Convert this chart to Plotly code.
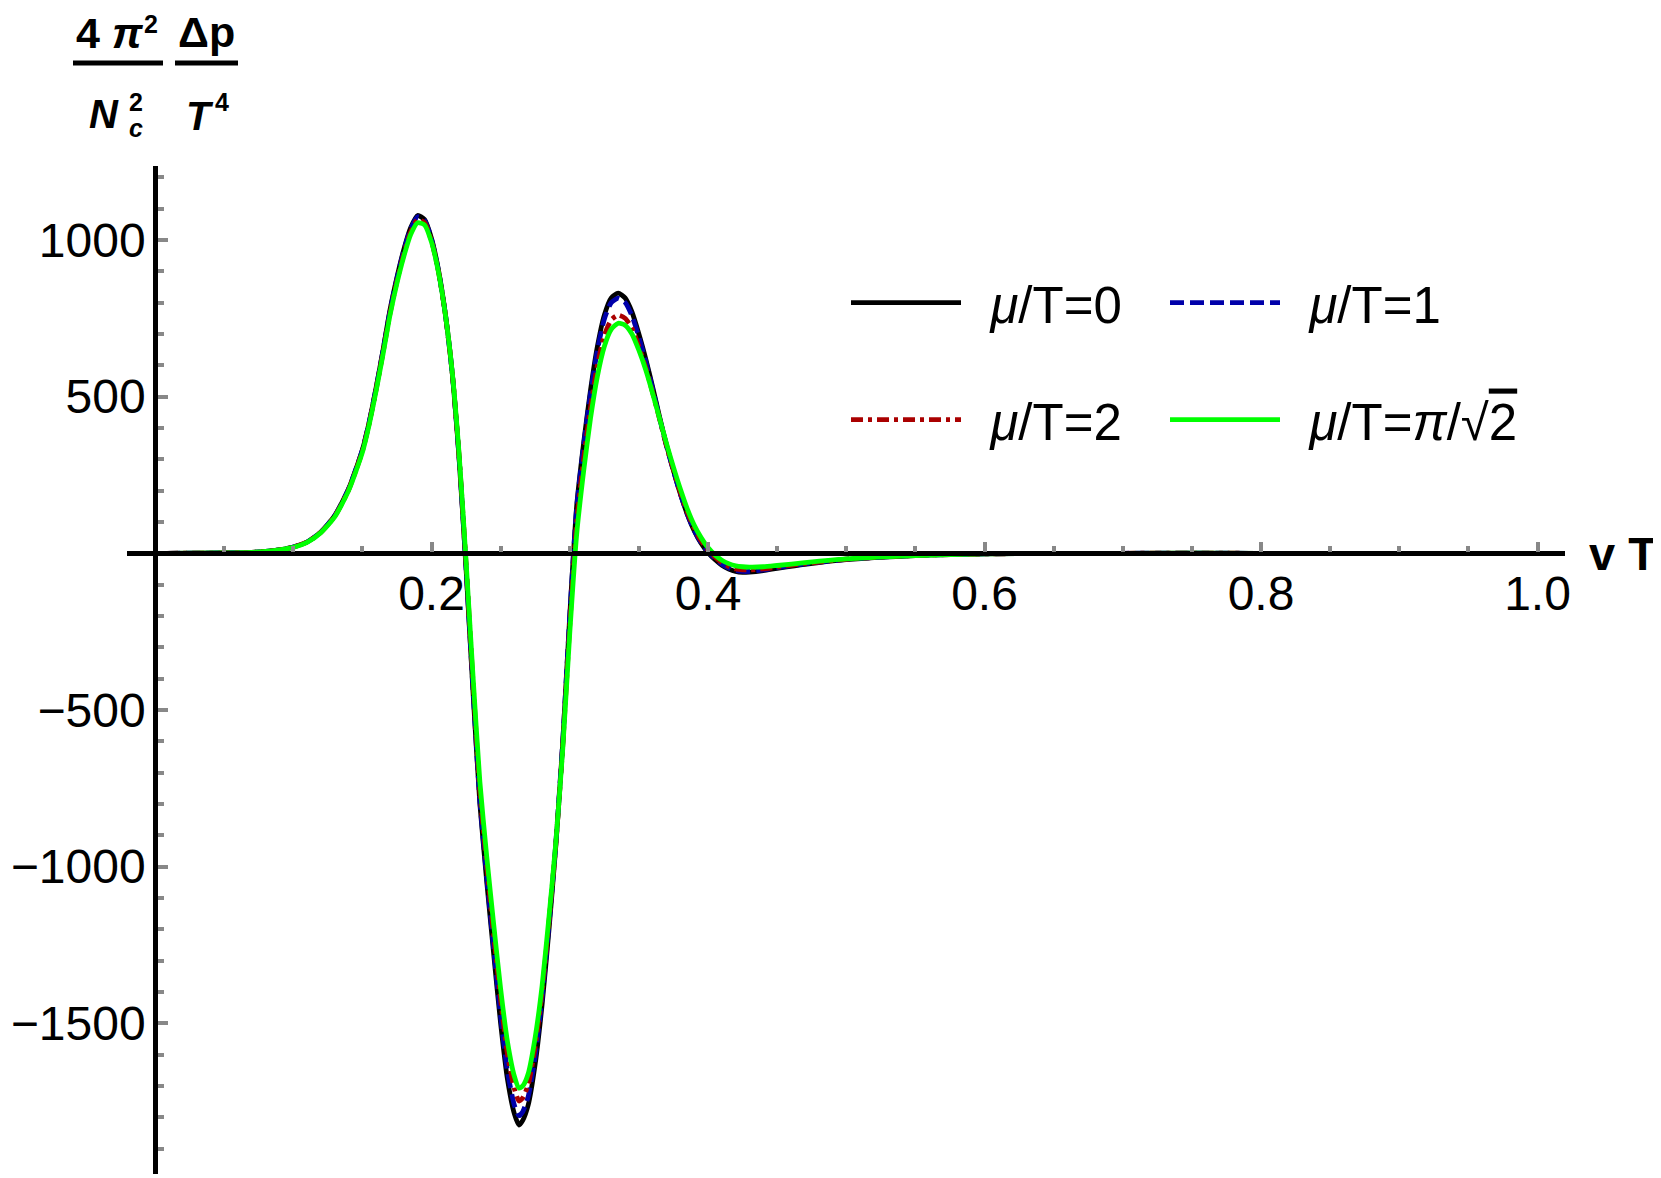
import plotly.graph_objects as go

# v T grid (shared by all curves)
vT = [0.008, 0.05, 0.07, 0.08, 0.09, 0.10, 0.11, 0.12, 0.13, 0.14,
      0.15, 0.155, 0.16, 0.165, 0.17, 0.175, 0.18, 0.185, 0.19, 0.195,
      0.20, 0.205, 0.21, 0.215, 0.22, 0.225, 0.23, 0.235, 0.24, 0.245,
      0.25, 0.255, 0.26, 0.2633, 0.266, 0.27, 0.275, 0.28, 0.285, 0.29,
      0.295, 0.30, 0.305, 0.31, 0.315, 0.32, 0.325, 0.33, 0.335, 0.34,
      0.345, 0.35, 0.355, 0.36, 0.365, 0.37, 0.375, 0.38, 0.385, 0.39,
      0.395, 0.40, 0.405, 0.41, 0.415, 0.42, 0.425, 0.43, 0.44, 0.45,
      0.47, 0.50, 0.55, 0.60, 0.70, 0.80, 0.90, 1.00]

# 4 pi^2/Nc^2 * dp/T^4
dp_mu0 = [0, 1, 3, 6, 11, 20, 36, 68, 120, 205,
          330, 420, 530, 650, 777, 880, 970, 1040, 1078, 1065,
          1005, 905, 765, 575, 300, -50, -440, -800, -1050, -1280,
          -1500, -1680, -1790, -1825, -1810, -1760, -1630, -1440, -1200, -930,
          -600, -200, 150, 350, 520, 660, 760, 815, 830, 815,
          770, 700, 620, 530, 435, 345, 265, 190, 125, 72,
          32, 2, -20, -38, -50, -58, -61, -60, -55, -48,
          -35, -20, -7, -2, 0, 0, 0, 0]

dp_mu1 = [0, 1, 3, 6, 11, 20, 36, 68, 120, 205,
          330, 420, 528, 648, 774, 877, 966, 1036, 1074, 1062,
          1002, 903, 764, 575, 302, -46, -432, -790, -1037, -1263,
          -1478, -1655, -1762, -1795, -1782, -1733, -1606, -1420, -1185, -920,
          -595, -200, 145, 343, 510, 648, 747, 800, 814, 801,
          758, 690, 612, 524, 431, 342, 263, 189, 125, 73,
          34, 4, -17, -35, -47, -55, -58, -58, -53, -46,
          -34, -19, -7, -2, 0, 0, 0, 0]

dp_mu2 = [0, 1, 3, 6, 11, 20, 36, 67, 118, 202,
          326, 416, 524, 642, 766, 868, 956, 1026, 1065, 1055,
          997, 900, 763, 576, 308, -35, -410, -760, -1000, -1220,
          -1425, -1600, -1710, -1748, -1738, -1695, -1575, -1400, -1175, -925,
          -610, -230, 100, 300, 465, 600, 695, 745, 760, 750,
          718, 660, 592, 512, 428, 343, 266, 194, 131, 80,
          40, 10, -12, -30, -42, -50, -53, -53, -50, -44,
          -33, -19, -7, -2, 0, 0, 0, 0]

dp_mupi = [0, 1, 3, 6, 11, 19, 35, 66, 116, 200,
           322, 412, 520, 637, 760, 862, 948, 1018, 1055, 1048,
           993, 898, 763, 578, 315, -25, -390, -730, -970, -1185,
           -1390, -1560, -1670, -1707, -1700, -1660, -1545, -1380, -1160, -920,
           -620, -255, 60, 260, 430, 565, 660, 715, 734, 728,
           700, 648, 585, 510, 430, 350, 275, 205, 142, 90,
           50, 18, -5, -22, -33, -40, -43, -44, -43, -39,
           -30, -18, -7, -2, 0, 0, 0, 0]

x_ticks = [0.2, 0.4, 0.6, 0.8, 1.0]
x_ticktext = ['0.2', '0.4', '0.6', '0.8', '1.0']
x_minor = [0.05, 0.1, 0.15, 0.25, 0.3, 0.35, 0.45, 0.5, 0.55, 0.65, 0.7,
           0.75, 0.85, 0.9, 0.95]
y_ticks = [-1500, -1000, -500, 500, 1000]
y_ticktext = ['\u22121500', '\u22121000', '\u2212500', '500', '1000']
y_minor = [-1900, -1800, -1700, -1600, -1400, -1300, -1200, -1100, -900, -800,
           -700, -600, -400, -300, -200, -100, 100, 200, 300, 400, 600, 700,
           800, 900, 1100, 1200]

# the page puts the plot 8px in from the top-left corner
OFF = 8
W, H = 1661 - OFF, 1178 - OFF
L, R, T, B = 127 - OFF, 1565 - OFF, 166 - OFF, 1174 - OFF
FONT = 'Liberation Sans, Arial, sans-serif'
SP = '\u00a0\u2009'


def px(x):  # screenshot x -> paper
    return (x - OFF - L) / (R - L)


def py(y):  # screenshot y -> paper
    return (B - (y - OFF)) / (B - T)


fig = go.Figure()

series = [
    (dp_mu0, '<i>μ</i>/T=0', 'black', 'solid', 'legend', 852, 307),
    (dp_mu1, '<i>μ</i>/T=1', '#0000aa', '14px,6px', 'legend2', 1171, 307),
    (dp_mu2, '<i>μ</i>/T=2', '#aa0000', '12px,5px,4px,5px', 'legend3', 852, 424),
    (dp_mupi, '<i>μ</i>/T=<i>π</i>/√<span style="text-decoration:overline">2</span>',
     '#00ff00', 'solid', 'legend4', 1171, 424),
]
legends = {}
for ys, name, color, dash, lg, lx, ly in series:
    fig.add_trace(go.Scatter(
        x=vT, y=ys, mode='lines', name=SP + name, legend=lg, showlegend=True,
        line=dict(color=color, width=4.8, dash=dash, shape='spline', smoothing=0.6)
    ))
    legends[lg] = dict(
        orientation='h', xref='container', yref='container',
        x=(lx - OFF - 6) / W, y=1 - (ly - OFF - 4) / H,
        xanchor='left', yanchor='middle',
        font=dict(family=FONT, size=51, color='black'),
        itemwidth=110, bgcolor='rgba(0,0,0,0)', visible=True,
    )

axis_font = dict(family=FONT, size=48, color='black')

fig.update_layout(
    width=W, height=H, showlegend=True,
    margin=dict(l=L, r=W - R, t=T, b=H - B, autoexpand=False),
    plot_bgcolor='white', paper_bgcolor='white',
    xaxis=dict(
        range=[-0.02025, 1.01989], anchor='free', position=py(553.3),
        showline=True, linecolor='black', linewidth=4.5,
        showgrid=False, zeroline=False,
        tickmode='array', tickvals=x_ticks, ticktext=x_ticktext,
        ticks='inside', ticklen=10, tickwidth=3.5, tickcolor='#888888',
        tickfont=axis_font, ticklabelstandoff=-4,
        minor=dict(tickmode='array', tickvals=x_minor, ticks='inside',
                   ticklen=6, tickwidth=3.5, tickcolor='#888888', showgrid=False),
    ),
    yaxis=dict(
        range=[-1981, 1236], anchor='free', position=px(155),
        showline=True, linecolor='black', linewidth=4.5,
        showgrid=False, zeroline=False,
        tickmode='array', tickvals=y_ticks, ticktext=y_ticktext,
        ticks='inside', ticklen=10, tickwidth=3.5, tickcolor='#888888',
        tickfont=axis_font, ticklabelstandoff=-2,
        minor=dict(tickmode='array', tickvals=y_minor, ticks='inside',
                   ticklen=6, tickwidth=3.5, tickcolor='#888888', showgrid=False),
    ),
    **legends,
)

# axis labels
lab = dict(xref='paper', yref='paper', showarrow=False,
           xanchor='center', yanchor='middle', borderpad=0,
           font=dict(family=FONT, size=43, color='black'))
den = dict(lab, font=dict(family=FONT, size=40, color='black'))
small = dict(lab, font=dict(family=FONT, size=25, color='black'))
fig.add_annotation(lab, x=px(1658), y=py(553), xanchor='right',
                   text='<b>v T</b>', font=dict(family=FONT, size=47, color='black'))
fig.add_annotation(lab, x=px(110), y=py(33), text='<b>4 <i>π</i></b>')
fig.add_annotation(small, x=px(151), y=py(24), text='<b>2</b>')
fig.add_annotation(lab, x=px(206), y=py(32), text='<b>Δp</b>')
fig.add_annotation(den, x=px(104), y=py(114), text='<b><i>N</i></b>')
fig.add_annotation(small, x=px(136), y=py(102), text='<b>2</b>')
fig.add_annotation(small, x=px(136), y=py(128), text='<b><i>c</i></b>')
fig.add_annotation(den, x=px(200), y=py(116), text='<b><i>T</i></b>')
fig.add_annotation(small, x=px(222), y=py(102), text='<b>4</b>')
for x0, x1 in [(73, 163), (175, 238)]:
    fig.add_shape(type='line', xref='paper', yref='paper',
                  x0=px(x0), x1=px(x1), y0=py(63), y1=py(63),
                  line=dict(color='black', width=5))

fig.write_html('out.html')
